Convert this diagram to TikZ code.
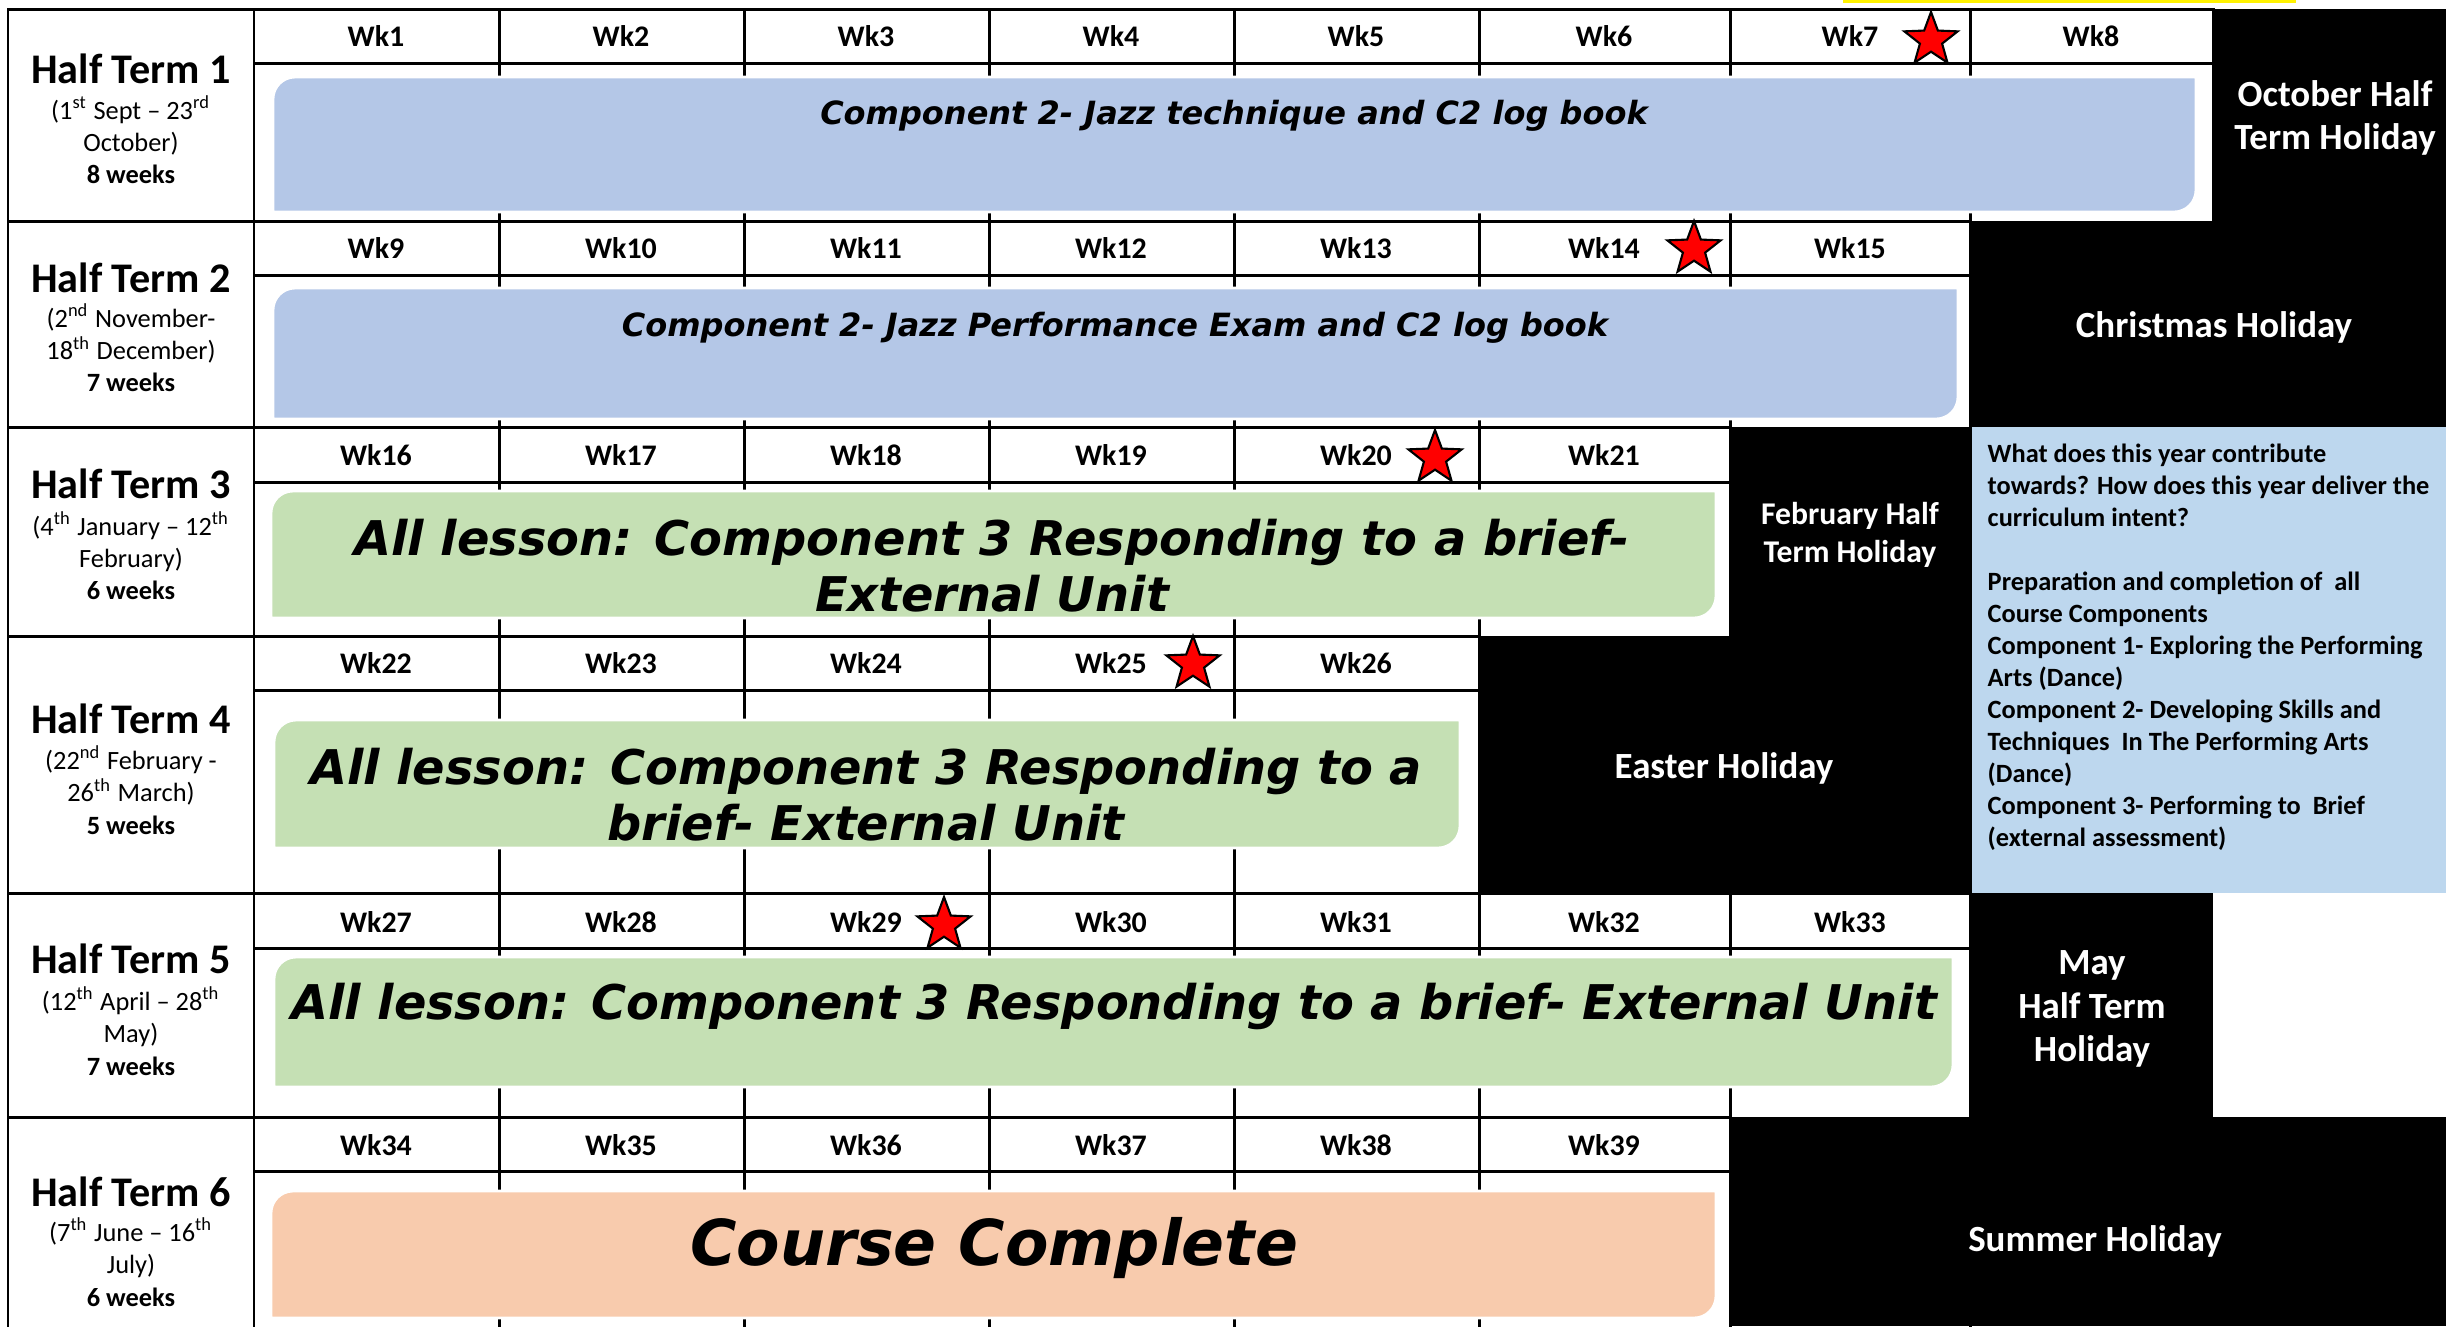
\documentclass[tikz,border=0pt]{standalone}
\usepackage{fontspec}
\setmainfont{Carlito}
\newfontfamily\barfont{DejaVu Sans}
\usetikzlibrary{shapes.geometric, positioning}

\definecolor{barblue}{HTML}{B4C7E7}
\definecolor{bargreen}{HTML}{C5E0B4}
\definecolor{barpeach}{HTML}{F8CBAD}
\definecolor{intentblue}{HTML}{BDD7EE}

% bar with round top-left and bottom-right corners: x1, y1, x2, y2, colour
\newcommand{\termbar}[5]{%
	\filldraw[fill=#5, draw=white, line width=0.8pt] (#1,#4) -- (#1,#2+22) arc[start angle=180, end angle=270, radius=22] -- (#3,#2) -- (#3,#4-22) arc[start angle=0, end angle=90, radius=22] -- cycle;}

\begin{document}
\begin{tikzpicture}[x=0.01cm, y=-0.01cm,
	grid/.style={line width=0.85pt, line cap=rect},
	wk/.style={font=\bfseries\fontsize{8.5}{10}\selectfont, inner sep=0pt},
	term/.style={font=\bfseries\fontsize{12}{14}\selectfont, inner sep=0pt},
	dates/.style={font=\fontsize{7.5}{9.2}\selectfont, align=center, inner sep=0pt},
	hol/.style={text=white, font=\bfseries\fontsize{10.5}{12.4}\selectfont, align=center, inner sep=0pt},
	bartext/.style={font=\barfont\bfseries\itshape\fontsize{#1}{15.9}\selectfont, align=center, inner sep=0pt},
	note/.style={font=\bfseries\fontsize{7.5}{9.1}\selectfont, align=left, inner sep=0pt},
	redstar/.style={star, star points=5, star point ratio=2.4, fill=red, draw=black, line width=0.6pt, minimum size=0.56cm, inner sep=0pt}]
	\useasboundingbox (0,0) rectangle (2446,1326);

	     % regions %
      \fill[white] (0,0) rectangle (2446,1326);
      \fill[yellow] (1843,0) rectangle (2296,3);
      \fill[black] (2213,9) rectangle (2446,221);
      \fill[black] (1970,221) rectangle (2446,427);
      \fill[black] (1730,427) rectangle (1970,636);
      \fill[black] (1479,636) rectangle (1970,893);
      \fill[intentblue] (1970,427) rectangle (2446,893);
      \fill[black] (1970,893) rectangle (2213,1117);
      \fill[black] (1730,1117) rectangle (2446,1326);

      % grid %
      \foreach \t/\h/\r in {9/63/2213, 221/275/1970, 427/482/1730, 636/690/1479, 893/948/1970, 1117/1171/1730} {
        \draw[grid] (8,\t) -- (\r,\t);
        \draw[grid] (254,\h) -- (\r,\h);
      }
      \foreach \x in {8,254,499,744,989,1234,1479,1730,1970}
        \draw[grid] (\x,9) -- (\x,1326);
      \draw[grid] (2213,9) -- (2213,221);

      % bars %
      \termbar{273}{77}{2196}{212}{barblue}
      \termbar{273}{288}{1958}{419}{barblue}
      \termbar{271}{491}{1716}{618}{bargreen}
      \termbar{274}{720}{1460}{848}{bargreen}
      \termbar{274}{957}{1953}{1087}{bargreen}
      \termbar{271}{1191}{1716}{1318}{barpeach}

      % weeks %
      \foreach \first/\cnt/\y in {1/8/36, 9/7/248, 16/6/455, 22/5/663, 27/7/922, 34/6/1145}
        \foreach \c in {1,...,\cnt} {
          \pgfmathtruncatemacro{\wk}{\first+\c-1}
          \pgfmathsetmacro{\xm}{{376,621,866,1111,1356,1604,1850,2091}[\c-1]}
          \node[wk] (wk\wk) at (\xm,\y) {Wk\wk};
        }
      \node[redstar] (star7) at (1931,40) {};
      \node[redstar] (star14) at (1694,249) {};
      \node[redstar] (star20) at (1435,458) {};
      \node[redstar] (star25) at (1193,664) {};
      \node[redstar] (star29) at (944,925) {};

      % half terms %
      \node[term] (ht1) at (131,69) {Half Term 1};
      \node[dates] (d1) at (131,140) {(1\textsuperscript{st} Sept – 23\textsuperscript{rd}\\October)\\\textbf{8 weeks}};
      \node[term] (ht2) at (131,278) {Half Term 2};
      \node[dates] (d2) at (131,348) {(2\textsuperscript{nd} November-\\18\textsuperscript{th} December)\\\textbf{7 weeks}};
      \node[term] (ht3) at (131,484) {Half Term 3};
      \node[dates] (d3) at (131,556) {(4\textsuperscript{th} January – 12\textsuperscript{th}\\February)\\\textbf{6 weeks}};
      \node[term] (ht4) at (131,719) {Half Term 4};
      \node[dates] (d4) at (131,790) {(22\textsuperscript{nd} February -\\26\textsuperscript{th} March)\\\textbf{5 weeks}};
      \node[term] (ht5) at (131,959) {Half Term 5};
      \node[dates] (d5) at (131,1031) {(12\textsuperscript{th} April – 28\textsuperscript{th}\\May)\\\textbf{7 weeks}};
      \node[term] (ht6) at (131,1192) {Half Term 6};
      \node[dates] (d6) at (131,1262) {(7\textsuperscript{th} June – 16\textsuperscript{th}\\July)\\\textbf{6 weeks}};

      % bar texts %
      \node[bartext=9.1] (c2tech) at (1234,116) {Component 2- Jazz technique and C2 log book};
      \node[bartext=9.1] (c2exam) at (1115,328) {Component 2- Jazz Performance Exam and C2 log book};
      \node[bartext=13.6] (c3a) at (992,566) {All lesson: Component 3 Responding to a brief-\\External Unit};
      \node[bartext=13.6] (c3b) at (866,795) {All lesson: Component 3 Responding to a\\brief- External Unit};
      \node[bartext=13.6] (c3c) at (1114,1006) {All lesson: Component 3 Responding to a brief- External Unit};
      \node[bartext=18] (done) at (994,1248) {Course Complete};

      % holidays %
      \node[hol] (octhol) at (2335,118) {October Half\\Term Holiday};
      \node[hol] (xmashol) at (2214,327) {Christmas Holiday};
      \node[hol, font=\bfseries\fontsize{9}{10.8}\selectfont] (febhol) at (1850,535) {February Half\\Term Holiday};
      \node[hol] (easterhol) at (1724,768) {Easter Holiday};
      \node[hol] (mayhol) at (2092,1009) {May\\Half Term\\Holiday};
      \node[hol] (summerhol) at (2095,1241) {Summer Holiday};

      % intent %
      \node[note, anchor=north west] (intent) at (1987,443) {What does this year contribute\\towards? How does this year deliver the\\curriculum intent?\\[9.1pt]Preparation and completion of \ all\\Course Components\\Component 1- Exploring the Performing\\Arts (Dance)\\Component 2- Developing Skills and\\Techniques \ In The Performing Arts\\(Dance)\\Component 3- Performing to \ Brief\\(external assessment)};
        \end{tikzpicture}
\end{document}
